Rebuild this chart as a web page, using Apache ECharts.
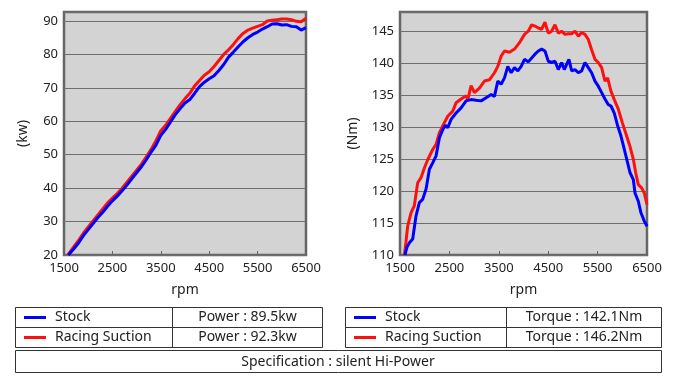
<!DOCTYPE html>
<html>
<head>
<meta charset="utf-8">
<script src="https://cdn.jsdelivr.net/npm/echarts@6/dist/echarts.min.js"></script>
<style>
html,body{margin:0;padding:0;background:#fff;}
#c{width:680px;height:380px;}
</style>
</head>
<body>
<div id="c"></div>
<script>
// ---- data ----
const rpmTicks = [1500, 2500, 3500, 4500, 5500, 6500];
const powerTicks = [20, 30, 40, 50, 60, 70, 80, 90];
const torqueTicks = [110, 115, 120, 125, 130, 135, 140, 145];

const seriesNames = ['Stock', 'Racing Suction'];

// [rpm, kw]
const powerStock = [[1590,20],[1700,21.8],[1800,23.6],[1900,25.8],[2000,27.6],[2100,29.4],[2200,31.2],[2300,32.8],[2400,34.6],[2500,36.2],[2600,37.6],[2700,39.2],[2800,40.9],[2900,42.8],[3000,44.6],[3100,46.4],[3200,48.5],[3300,50.8],[3400,52.9],[3500,55.8],[3600,57.6],[3700,59.8],[3800,62.0],[3900,63.8],[4000,65.5],[4100,66.5],[4200,68.4],[4300,70.4],[4400,71.7],[4500,72.7],[4600,73.6],[4700,75.2],[4800,77.0],[4900,79.2],[5000,80.7],[5100,82.3],[5200,83.8],[5300,85.0],[5400,86.0],[5500,86.7],[5600,87.6],[5700,88.3],[5800,89.1],[5900,89.2],[6000,88.8],[6100,88.9],[6200,88.4],[6300,88.3],[6400,87.3],[6500,88.0]];
const powerRacing = [[1580,20],[1700,22.4],[1800,24.4],[1900,26.5],[2000,28.4],[2100,30.2],[2200,32.0],[2300,33.8],[2400,35.6],[2500,37.0],[2600,38.4],[2700,40.0],[2800,41.8],[2900,43.6],[3000,45.4],[3100,47.2],[3200,49.4],[3300,51.6],[3400,54.2],[3500,57.2],[3600,58.8],[3700,60.9],[3800,63.0],[3900,65.0],[4000,66.8],[4100,68.4],[4200,70.6],[4300,72.2],[4400,73.8],[4500,74.8],[4600,76.4],[4700,78.2],[4800,80.0],[4900,81.4],[5000,83.0],[5100,84.8],[5200,86.3],[5300,87.3],[5400,87.9],[5500,88.4],[5600,88.9],[5700,90.0],[5800,90.2],[5900,90.4],[6000,90.6],[6100,90.6],[6200,90.4],[6300,89.9],[6400,89.8],[6500,90.8]];

// [rpm, Nm]
const torqueStock = [[1600,110],[1640,111.2],[1690,111.9],[1757,112.5],[1824,116.1],[1892,118.2],[1959,118.7],[2027,120.3],[2095,123.4],[2162,124.4],[2230,125.5],[2297,128.3],[2365,129.6],[2420,130.3],[2466,129.9],[2534,131.2],[2635,132.2],[2737,133.0],[2838,134.1],[2939,134.3],[3040,134.2],[3142,134.1],[3243,134.6],[3345,135.1],[3412,134.8],[3480,137.2],[3547,136.7],[3615,137.7],[3682,139.5],[3750,138.5],[3818,139.3],[3885,138.8],[3953,139.5],[4020,140.6],[4097,140.2],[4165,140.8],[4232,141.4],[4300,141.9],[4367,142.2],[4435,141.9],[4502,140.3],[4570,140.1],[4637,140.3],[4705,139.0],[4772,140.1],[4826,139.0],[4873,139.8],[4920,140.6],[4975,138.8],[5042,139.0],[5110,138.5],[5177,138.8],[5244,140.1],[5312,139.3],[5379,138.5],[5447,137.2],[5514,136.4],[5582,135.4],[5649,134.4],[5717,133.5],[5771,133.3],[5838,132.2],[5906,130.2],[5973,128.6],[6041,126.5],[6108,124.4],[6155,122.9],[6223,121.8],[6257,119.7],[6324,118.4],[6378,116.6],[6445,115.3],[6500,114.5]];
const torqueRacing = [[1590,110],[1620,112],[1655,114.5],[1723,116.6],[1790,117.7],[1858,121.3],[1926,122.1],[1993,123.6],[2061,124.9],[2162,126.5],[2230,127.3],[2297,129.1],[2365,130.2],[2466,131.7],[2568,132.5],[2635,133.8],[2737,134.4],[2838,134.9],[2872,134.3],[2939,136.5],[3007,135.4],[3108,136.1],[3209,137.2],[3311,137.4],[3412,138.5],[3480,139.5],[3547,141.1],[3615,141.9],[3716,141.7],[3818,142.2],[3919,143.2],[4020,144.5],[4097,145.0],[4165,146.0],[4232,145.8],[4300,145.5],[4367,145.3],[4435,146.4],[4502,144.7],[4570,145.0],[4637,146.0],[4705,144.7],[4772,145.0],[4840,144.5],[4907,144.6],[4975,144.6],[5042,145.0],[5110,144.2],[5177,144.8],[5244,144.5],[5312,143.7],[5379,142.1],[5447,140.6],[5514,140.1],[5582,139.3],[5649,137.2],[5703,137.7],[5771,135.6],[5838,134.3],[5919,132.8],[6000,130.7],[6088,128.6],[6155,127.0],[6223,125.0],[6270,122.9],[6324,121.0],[6391,120.5],[6445,119.7],[6500,117.9]];

const powerPeaks = ['Power : 89.5kw', 'Power : 92.3kw'];
const torquePeaks = ['Torque : 142.1Nm', 'Torque : 146.2Nm'];
const specText = 'Specification : silent Hi-Power';

// ---- chart ----
const FONT = '"Noto Sans", "DejaVu Sans", sans-serif';
const BLUE = '#0000ff', RED = '#ff1010';
const chart = echarts.init(document.getElementById('c'), null, {renderer: 'canvas'});

function xAxis(gi) {
  return {
    type: 'value', gridIndex: gi, min: 1500, max: 6500,
    name: 'rpm', nameLocation: 'middle', nameGap: 28,
    nameTextStyle: {fontFamily: FONT, fontSize: 14, color: '#222'},
    axisLine: {show: false},
    axisTick: {show: true, inside: true, length: 4, lineStyle: {color: '#666'}, customValues: rpmTicks},
    axisLabel: {fontFamily: FONT, fontSize: 13, color: '#222', margin: 7, customValues: rpmTicks, formatter: v => String(v)},
    splitLine: {show: false}
  };
}
function yAxis(gi, ticks, interval, max, name, gap) {
  return {
    type: 'value', gridIndex: gi, min: ticks[0], max: max, interval: interval,
    name: name, nameLocation: 'middle', nameGap: gap, nameRotate: 90,
    nameTextStyle: {fontFamily: FONT, fontSize: 14, color: '#222'},
    axisLine: {show: false}, axisTick: {show: false},
    axisLabel: {fontFamily: FONT, fontSize: 13, color: '#222', margin: 6, showMaxLabel: false, formatter: v => String(v)},
    splitLine: {show: true, lineStyle: {color: '#6e6e6e', width: 1}}
  };
}
function line(name, xi, data, color) {
  return {
    name: name, type: 'line', xAxisIndex: xi, yAxisIndex: xi, data: data,
    showSymbol: false, symbol: 'none', lineStyle: {color: color, width: 3}, color: color,
    clip: true, animation: false
  };
}

const graphics = [];
function rect(x, y, w, h) {
  graphics.push({type: 'rect', shape: {x: x, y: y, width: w, height: h}, style: {fill: '#fff', stroke: '#333', lineWidth: 1}, z: 10});
}
function seg(x1, y1, x2, y2, color, w) {
  graphics.push({type: 'line', shape: {x1: x1, y1: y1, x2: x2, y2: y2}, style: {stroke: color, lineWidth: w}, z: 11});
}
function txt(t, x, y, align) {
  graphics.push({type: 'text', x: x, y: y, style: {text: t, font: '14px ' + FONT, fill: '#222', align: align, verticalAlign: 'middle'}, z: 12});
}
function table(x0, x1, xd, peaks) {
  rect(x0 + 0.5, 307.5, x1 - x0, 40);
  seg(x0 + 0.5, 327.5, x1 + 0.5, 327.5, '#333', 1);
  seg(xd + 0.5, 307.5, xd + 0.5, 347.5, '#333', 1);
  const colors = [BLUE, RED];
  for (let i = 0; i < 2; i++) {
    const cy = 317.5 + i * 20;
    seg(x0 + 9, cy, x0 + 31, cy, colors[i], 3);
    txt(seriesNames[i], x0 + 40, cy, 'left');
    txt(peaks[i], (xd + x1) / 2 + 0.5, cy, 'center');
  }
}
table(15, 322, 172, powerPeaks);
table(345, 661, 506, torquePeaks);
rect(15.5, 350.5, 646, 22);
txt(specText, 338, 362, 'center');

chart.setOption({
  animation: false,
  backgroundColor: '#fff',
  grid: [
    {left: 64, right: 374, top: 12, bottom: 125, show: true, backgroundColor: '#d3d3d3', borderColor: '#666', borderWidth: 2.5, containLabel: false},
    {left: 400, right: 33, top: 12, bottom: 125, show: true, backgroundColor: '#d3d3d3', borderColor: '#666', borderWidth: 2.5, containLabel: false}
  ],
  xAxis: [xAxis(0), xAxis(1)],
  yAxis: [
    yAxis(0, powerTicks, 10, 92.7, '(kw)', 34),
    yAxis(1, torqueTicks, 5, 148, '(Nm)', 40)
  ],
  series: [
    line(seriesNames[1], 0, powerRacing, RED),
    line(seriesNames[0], 0, powerStock, BLUE),
    line(seriesNames[1], 1, torqueRacing, RED),
    line(seriesNames[0], 1, torqueStock, BLUE)
  ],
  graphic: graphics
});
</script>
</body>
</html>
